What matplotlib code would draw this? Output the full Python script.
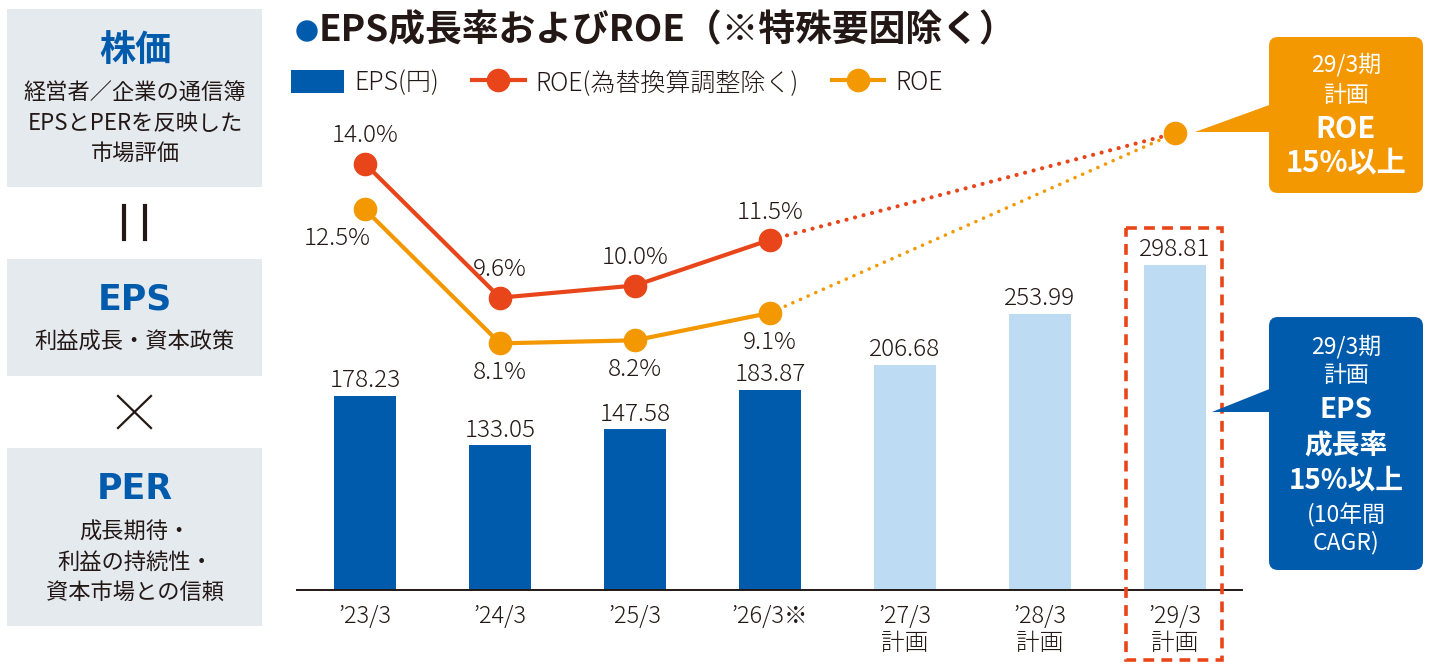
import matplotlib
matplotlib.use("Agg")
import matplotlib.pyplot as plt
from matplotlib.patches import Rectangle, FancyBboxPatch, Polygon, Circle

plt.rcParams['font.family'] = ['Noto Sans CJK JP', 'DejaVu Sans']

# data
periods = ["’23/3", "’24/3", "’25/3", "’26/3※", "’27/3\n計画", "’28/3\n計画", "’29/3\n計画"]
eps = [178.23, 133.05, 147.58, 183.87, 206.68, 253.99, 298.81]
eps_is_plan = [False, False, False, False, True, True, True]
roe_adj = [14.0, 9.6, 10.0, 11.5]      # ROE (為替換算調整除く)
roe = [12.5, 8.1, 8.2, 9.1]            # ROE
roe_target = 15.0                      # 29/3期 計画

BLUE = "#005bac"
LIGHT = "#bddcf3"
RED = "#e8461a"
ORANGE = "#f39800"
GREY = "#e5eaef"
TXT = "#231815"
LW = 300  # light weight for the numbers

fig = plt.figure(figsize=(14.3, 6.7), dpi=100)
W, H = 1430, 670

# chart area (pixels: x 297..1242, baseline y 590, top y 110)
ax = fig.add_axes([297 / W, (H - 590) / H, 945 / W, 480 / H])
ax2 = ax.twinx()
x = list(range(len(periods)))
ax.set_xlim((297 - 365) / 135, (1242 - 365) / 135)
ax.set_ylim(0, 480 / 1.0877)
ax2.set_ylim(0, 480 / 30.45)

colors = [LIGHT if p else BLUE for p in eps_is_plan]
bars = ax.bar(x, eps, width=0.46, color=colors, zorder=2, label="EPS(円)")
for xi, v in zip(x, eps):
    ax.annotate(f"{v:.2f}", (xi, v), xytext=(0, 11), textcoords="offset points",
                ha="center", va="center", fontsize=17.5, color=TXT, fontweight=LW)

for a in (ax, ax2):
    for s in ("top", "right", "left"):
        a.spines[s].set_visible(False)
    a.set_yticks([])
ax.spines["bottom"].set_linewidth(1.4)
ax.spines["bottom"].set_color(TXT)
ax2.spines["bottom"].set_visible(False)
ax.set_xticks(x)
ax.set_xticklabels(periods, fontsize=17, color=TXT, linespacing=1.1, va="top", fontweight=LW)
ax.tick_params(axis="x", length=0, pad=10)

xr = x[:len(roe)]
# dotted extensions to target
ax2.plot([xr[-1], x[-1]], [roe_adj[-1], roe_target], color=RED, lw=3,
         linestyle=(0, (0.01, 2.1)), dash_capstyle="round", zorder=3, clip_on=False)
ax2.plot([xr[-1], x[-1]], [roe[-1], roe_target], color=ORANGE, lw=2.6,
         linestyle=(0, (0.01, 2.3)), dash_capstyle="round", zorder=3, clip_on=False)
ax2.plot(xr, roe_adj, color=RED, lw=3, marker="o", ms=16, zorder=4,
         clip_on=False, label="ROE(為替換算調整除く)")
ax2.plot(xr, roe, color=ORANGE, lw=3, marker="o", ms=16, zorder=4,
         clip_on=False, label="ROE")
ax2.plot([x[-1]], [roe_target], color=ORANGE, marker="o", ms=16, zorder=5, clip_on=False)

for xi, v in zip(xr, roe_adj):
    ax2.annotate(f"{v:.1f}%", (xi, v), xytext=(0, 20), textcoords="offset points",
                 ha="center", va="center", fontsize=17.5, color=TXT, fontweight=LW)
for i, (xi, v) in enumerate(zip(xr, roe)):
    off = (-20, -21) if i == 0 else (0, -21)
    ax2.annotate(f"{v:.1f}%", (xi, v), xytext=off, textcoords="offset points",
                 ha="center", va="center", fontsize=17.5, color=TXT, fontweight=LW)

h1 = [bars.patches[0]]
h2, l2 = ax2.get_legend_handles_labels()
leg = ax.legend(h1 + h2, ["EPS(円)"] + l2, loc="center left",
                bbox_to_anchor=(291 / W, 1 - 83 / H), bbox_transform=fig.transFigure,
                ncol=3, frameon=False, fontsize=18, handlelength=2.1, handleheight=1.05,
                handletextpad=0.45, columnspacing=1.3, borderaxespad=0, borderpad=0)
for t in leg.get_texts():
    t.set_color(TXT)
    t.set_fontweight(LW)

# overlay for panels and callouts (pixel coordinates)
ov = fig.add_axes([0, 0, 1, 1])
ov.set_xlim(0, W)
ov.set_ylim(H, 0)
ov.axis("off")
ov.patch.set_alpha(0)

# title
ov.add_patch(Circle((307, 31), 10, color=BLUE))
ov.text(319, 31, "EPS成長率およびROE（※特殊要因除く）", fontsize=26.5, fontweight="bold",
        color=TXT, va="center", ha="left")

# left panels
for y0, y1 in [(9, 187), (259, 376), (448, 626)]:
    ov.add_patch(Rectangle((7, y0), 255, y1 - y0, color=GREY, lw=0))
ov.text(135, 50, "株価", fontsize=26, fontweight="bold", color=BLUE, ha="center", va="center")
for yy, s in [(93, "経営者／企業の通信簿"), (123, "EPSとPERを反映した"), (153, "市場評価")]:
    ov.text(135, yy, s, fontsize=16, color=TXT, ha="center", va="center")
ov.text(135, 300, "EPS", fontsize=25, fontweight="bold", color=BLUE, ha="center", va="center",
        family="DejaVu Sans")
ov.text(135, 342, "利益成長・資本政策", fontsize=16, color=TXT, ha="center", va="center")
ov.text(135, 489, "PER", fontsize=25, fontweight="bold", color=BLUE, ha="center", va="center",
        family="DejaVu Sans")
for yy, s in [(532, "成長期待・"), (562, "利益の持続性・"), (592, "資本市場との信頼")]:
    ov.text(135, yy, s, fontsize=16, color=TXT, ha="center", va="center")
# "=" and "x" signs
ov.plot([124, 124], [206, 239], color=TXT, lw=3)
ov.plot([145, 145], [206, 239], color=TXT, lw=3)
ov.plot([118, 151], [396, 428], color=TXT, lw=1.6)
ov.plot([118, 151], [428, 396], color=TXT, lw=1.6)

# dashed frame around last period
ov.add_patch(Rectangle((1126, 228), 96, 432, fill=False, edgecolor=RED, lw=2.6,
                       linestyle=(0, (3, 2))))

# ROE callout
ov.add_patch(FancyBboxPatch((1269, 37), 154, 156, boxstyle="round,pad=0,rounding_size=9",
                            color=ORANGE, lw=0))
ov.add_patch(Polygon([(1195, 132), (1272, 104), (1272, 132)], color=ORANGE, lw=0))
ov.text(1346, 65, "29/3期", fontsize=16.5, color="white", ha="center", va="center")
ov.text(1346, 95, "計画", fontsize=16.5, color="white", ha="center", va="center")
ov.text(1346, 129, "ROE", fontsize=21, fontweight="bold", color="white", ha="center", va="center")
ov.text(1346, 163, "15%以上", fontsize=21, fontweight="bold", color="white", ha="center", va="center")

# EPS callout
ov.add_patch(FancyBboxPatch((1269, 317), 154, 253, boxstyle="round,pad=0,rounding_size=9",
                            color=BLUE, lw=0))
ov.add_patch(Polygon([(1212, 412), (1272, 388), (1272, 412)], color=BLUE, lw=0))
ov.text(1346, 347, "29/3期", fontsize=16.5, color="white", ha="center", va="center")
ov.text(1346, 376, "計画", fontsize=16.5, color="white", ha="center", va="center")
ov.text(1346, 410, "EPS", fontsize=20, fontweight="bold", color="white", ha="center", va="center")
ov.text(1346, 446, "成長率", fontsize=20, fontweight="bold", color="white", ha="center", va="center")
ov.text(1346, 480, "15%以上", fontsize=20, fontweight="bold", color="white", ha="center", va="center")
ov.text(1346, 515, "(10年間", fontsize=16.5, color="white", ha="center", va="center")
ov.text(1346, 543, "CAGR)", fontsize=16.5, color="white", ha="center", va="center")

fig.savefig("out.png", dpi=100)
